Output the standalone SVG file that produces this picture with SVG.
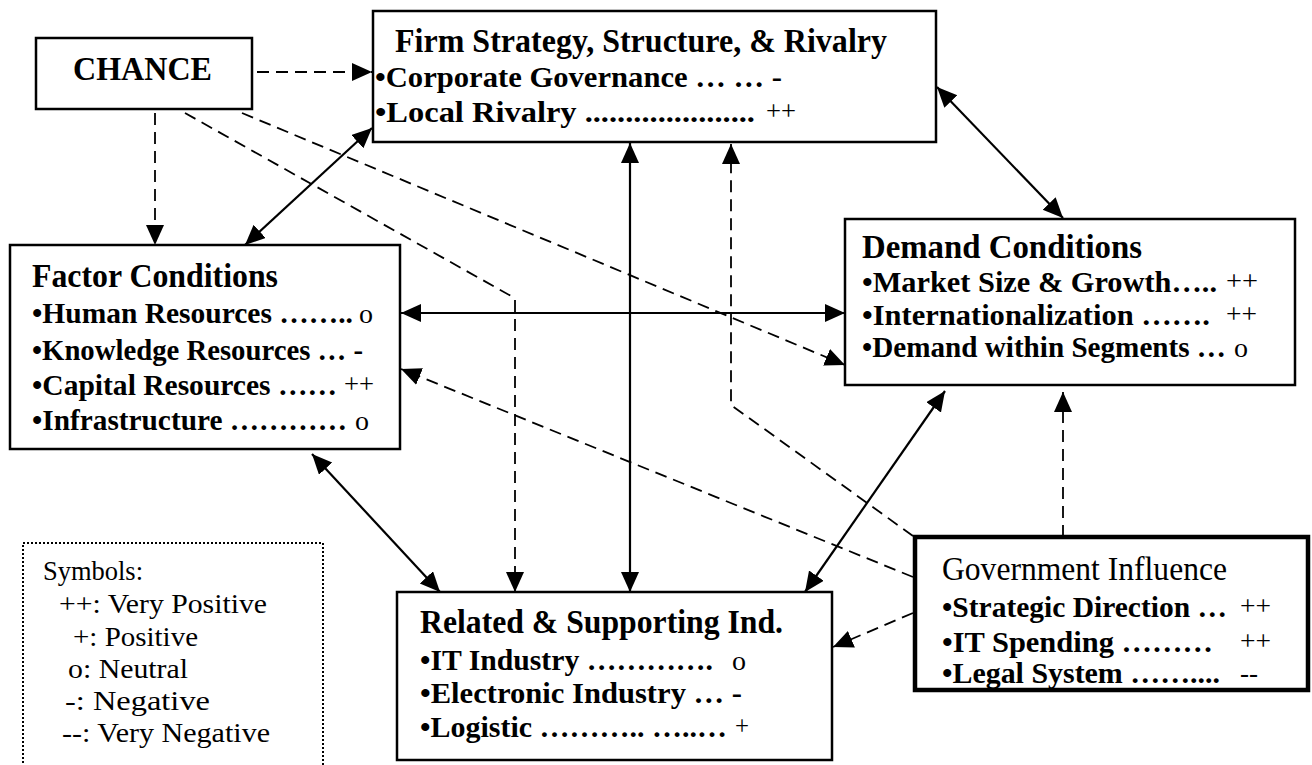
<svg xmlns="http://www.w3.org/2000/svg" width="1312" height="765" viewBox="0 0 1312 765">
<style>
.box{fill:#fff;stroke:#000;stroke-width:2.5}
.gov{fill:#fff;stroke:#000;stroke-width:4.5}
.legendbox{fill:none;stroke:#000;stroke-width:2;stroke-dasharray:2 2}
.t{font-family:"Liberation Serif","Times New Roman",serif;fill:#000}
.b{font-weight:bold}
.title{font-size:33px}
.item{font-size:30px}
.leg{font-size:28px}
.sym{font-size:28px;font-weight:normal}
.solid{stroke:#000;stroke-width:2.2;fill:none;marker-start:url(#ah);marker-end:url(#ah)}
.dash{stroke:#000;stroke-width:1.8;stroke-dasharray:12 7;fill:none;marker-end:url(#ah)}
</style>
<defs>
<marker id="ah" markerUnits="userSpaceOnUse" markerWidth="22" markerHeight="20" refX="20" refY="9" orient="auto-start-reverse" viewBox="0 0 22 20">
<path d="M0,0 L20,9 L0,18 z" fill="#000"/>
</marker>
</defs>
<rect width="1312" height="765" fill="#fff"/>

<g id="connectors">
<path class="dash" d="M257,72 L372,72"/>
<path class="dash" d="M155,113 L155,245"/>
<path class="dash" d="M185,113 L511,296 M515,300 L515,592"/>
<path class="dash" d="M242,113 L845,365"/>
<path class="solid" d="M372,128 L245,245"/>
<path class="solid" d="M937,87 L1063,218"/>
<path class="solid" d="M630,143 L630,592"/>
<path class="solid" d="M401,313 L845,313"/>
<path class="solid" d="M312,454 L440,592"/>
<path class="solid" d="M805,592 L945,391"/>
<path class="dash" d="M913,536 L731,405 L731,144"/>
<path class="dash" d="M913,577 L401,369"/>
<path class="dash" d="M913,613 L833,647"/>
<path class="dash" d="M1063,537 L1063,392"/>
</g>

<g id="chance">
<rect class="box" x="36" y="38" width="216" height="71"/>
<text class="t b title" x="73" y="80" textLength="139" lengthAdjust="spacingAndGlyphs">CHANCE</text>
</g>

<g id="firm">
<rect class="box" x="373" y="11" width="563" height="131"/>
<text class="t b title" x="395" y="52" textLength="492" lengthAdjust="spacingAndGlyphs">Firm Strategy, Structure, &amp; Rivalry</text>
<text class="t b item" x="375" y="87" textLength="407" lengthAdjust="spacingAndGlyphs">•Corporate Governance … … -</text>
<text class="t b item" x="375" y="122" textLength="380" lengthAdjust="spacingAndGlyphs">•Local Rivalry .....................</text>
<text class="t sym" x="766" y="120" textLength="30" lengthAdjust="spacingAndGlyphs">++</text>
</g>

<g id="factor">
<rect class="box" x="10" y="245" width="390" height="204"/>
<text class="t b title" x="32" y="287" textLength="246" lengthAdjust="spacingAndGlyphs">Factor Conditions</text>
<text class="t b item" x="32" y="323" textLength="321" lengthAdjust="spacingAndGlyphs">•Human Resources ……..</text>
<text class="t sym" x="359" y="323" textLength="14" lengthAdjust="spacingAndGlyphs">o</text>
<text class="t b item" x="32" y="360" textLength="331" lengthAdjust="spacingAndGlyphs">•Knowledge Resources … -</text>
<text class="t b item" x="32" y="395" textLength="305" lengthAdjust="spacingAndGlyphs">•Capital Resources ……</text>
<text class="t sym" x="344" y="393" textLength="30" lengthAdjust="spacingAndGlyphs">++</text>
<text class="t b item" x="32" y="430" textLength="315" lengthAdjust="spacingAndGlyphs">•Infrastructure …………</text>
<text class="t sym" x="355" y="430" textLength="14" lengthAdjust="spacingAndGlyphs">o</text>
</g>

<g id="demand">
<rect class="box" x="845" y="219" width="450" height="166"/>
<text class="t b title" x="862" y="258" textLength="280" lengthAdjust="spacingAndGlyphs">Demand Conditions</text>
<text class="t b item" x="862" y="292" textLength="355" lengthAdjust="spacingAndGlyphs">•Market Size &amp; Growth…..</text>
<text class="t sym" x="1226" y="290" textLength="32" lengthAdjust="spacingAndGlyphs">++</text>
<text class="t b item" x="862" y="325" textLength="348" lengthAdjust="spacingAndGlyphs">•Internationalization …….</text>
<text class="t sym" x="1226" y="323" textLength="31" lengthAdjust="spacingAndGlyphs">++</text>
<text class="t b" font-size="29" x="862" y="357" textLength="364" lengthAdjust="spacingAndGlyphs">•Demand within Segments …</text>
<text class="t sym" x="1234" y="357" textLength="14" lengthAdjust="spacingAndGlyphs">o</text>
</g>

<g id="related">
<rect class="box" x="397" y="592" width="435" height="168"/>
<text class="t b title" x="420" y="633" textLength="363" lengthAdjust="spacingAndGlyphs">Related &amp; Supporting Ind.</text>
<text class="t b item" x="420" y="670" textLength="293" lengthAdjust="spacingAndGlyphs">•IT Industry ………….</text>
<text class="t sym" x="732" y="670" textLength="14" lengthAdjust="spacingAndGlyphs">o</text>
<text class="t b item" x="420" y="703" textLength="322" lengthAdjust="spacingAndGlyphs">•Electronic Industry … -</text>
<text class="t b item" x="420" y="737" textLength="307" lengthAdjust="spacingAndGlyphs">•Logistic ……….. …..…</text>
<text class="t sym" x="735" y="735" textLength="14" lengthAdjust="spacingAndGlyphs">+</text>
</g>

<g id="government">
<rect class="gov" x="915" y="537" width="393" height="153"/>
<text class="t title" x="942" y="580" textLength="285" lengthAdjust="spacingAndGlyphs">Government Influence</text>
<text class="t b item" x="942" y="617" textLength="285" lengthAdjust="spacingAndGlyphs">•Strategic Direction …</text>
<text class="t sym" x="1240" y="615" textLength="31" lengthAdjust="spacingAndGlyphs">++</text>
<text class="t b item" x="942" y="652" textLength="271" lengthAdjust="spacingAndGlyphs">•IT Spending ………</text>
<text class="t sym" x="1240" y="650" textLength="31" lengthAdjust="spacingAndGlyphs">++</text>
<text class="t b item" x="942" y="683" textLength="278" lengthAdjust="spacingAndGlyphs">•Legal System ……....</text>
<text class="t sym" x="1240" y="682" textLength="18" lengthAdjust="spacingAndGlyphs">--</text>
</g>

<g id="legend">
<rect class="legendbox" x="23" y="543" width="300" height="240"/>
<text class="t leg" x="43" y="580" textLength="100" lengthAdjust="spacingAndGlyphs">Symbols:</text>
<text class="t leg" x="59" y="613" textLength="208" lengthAdjust="spacingAndGlyphs">++: Very Positive</text>
<text class="t leg" x="73" y="646" textLength="125" lengthAdjust="spacingAndGlyphs">+: Positive</text>
<text class="t leg" x="68" y="678" textLength="120" lengthAdjust="spacingAndGlyphs">o: Neutral</text>
<text class="t leg" x="65" y="710" textLength="145" lengthAdjust="spacingAndGlyphs">-: Negative</text>
<text class="t leg" x="62" y="742" textLength="208" lengthAdjust="spacingAndGlyphs">--: Very Negative</text>
</g>
</svg>
